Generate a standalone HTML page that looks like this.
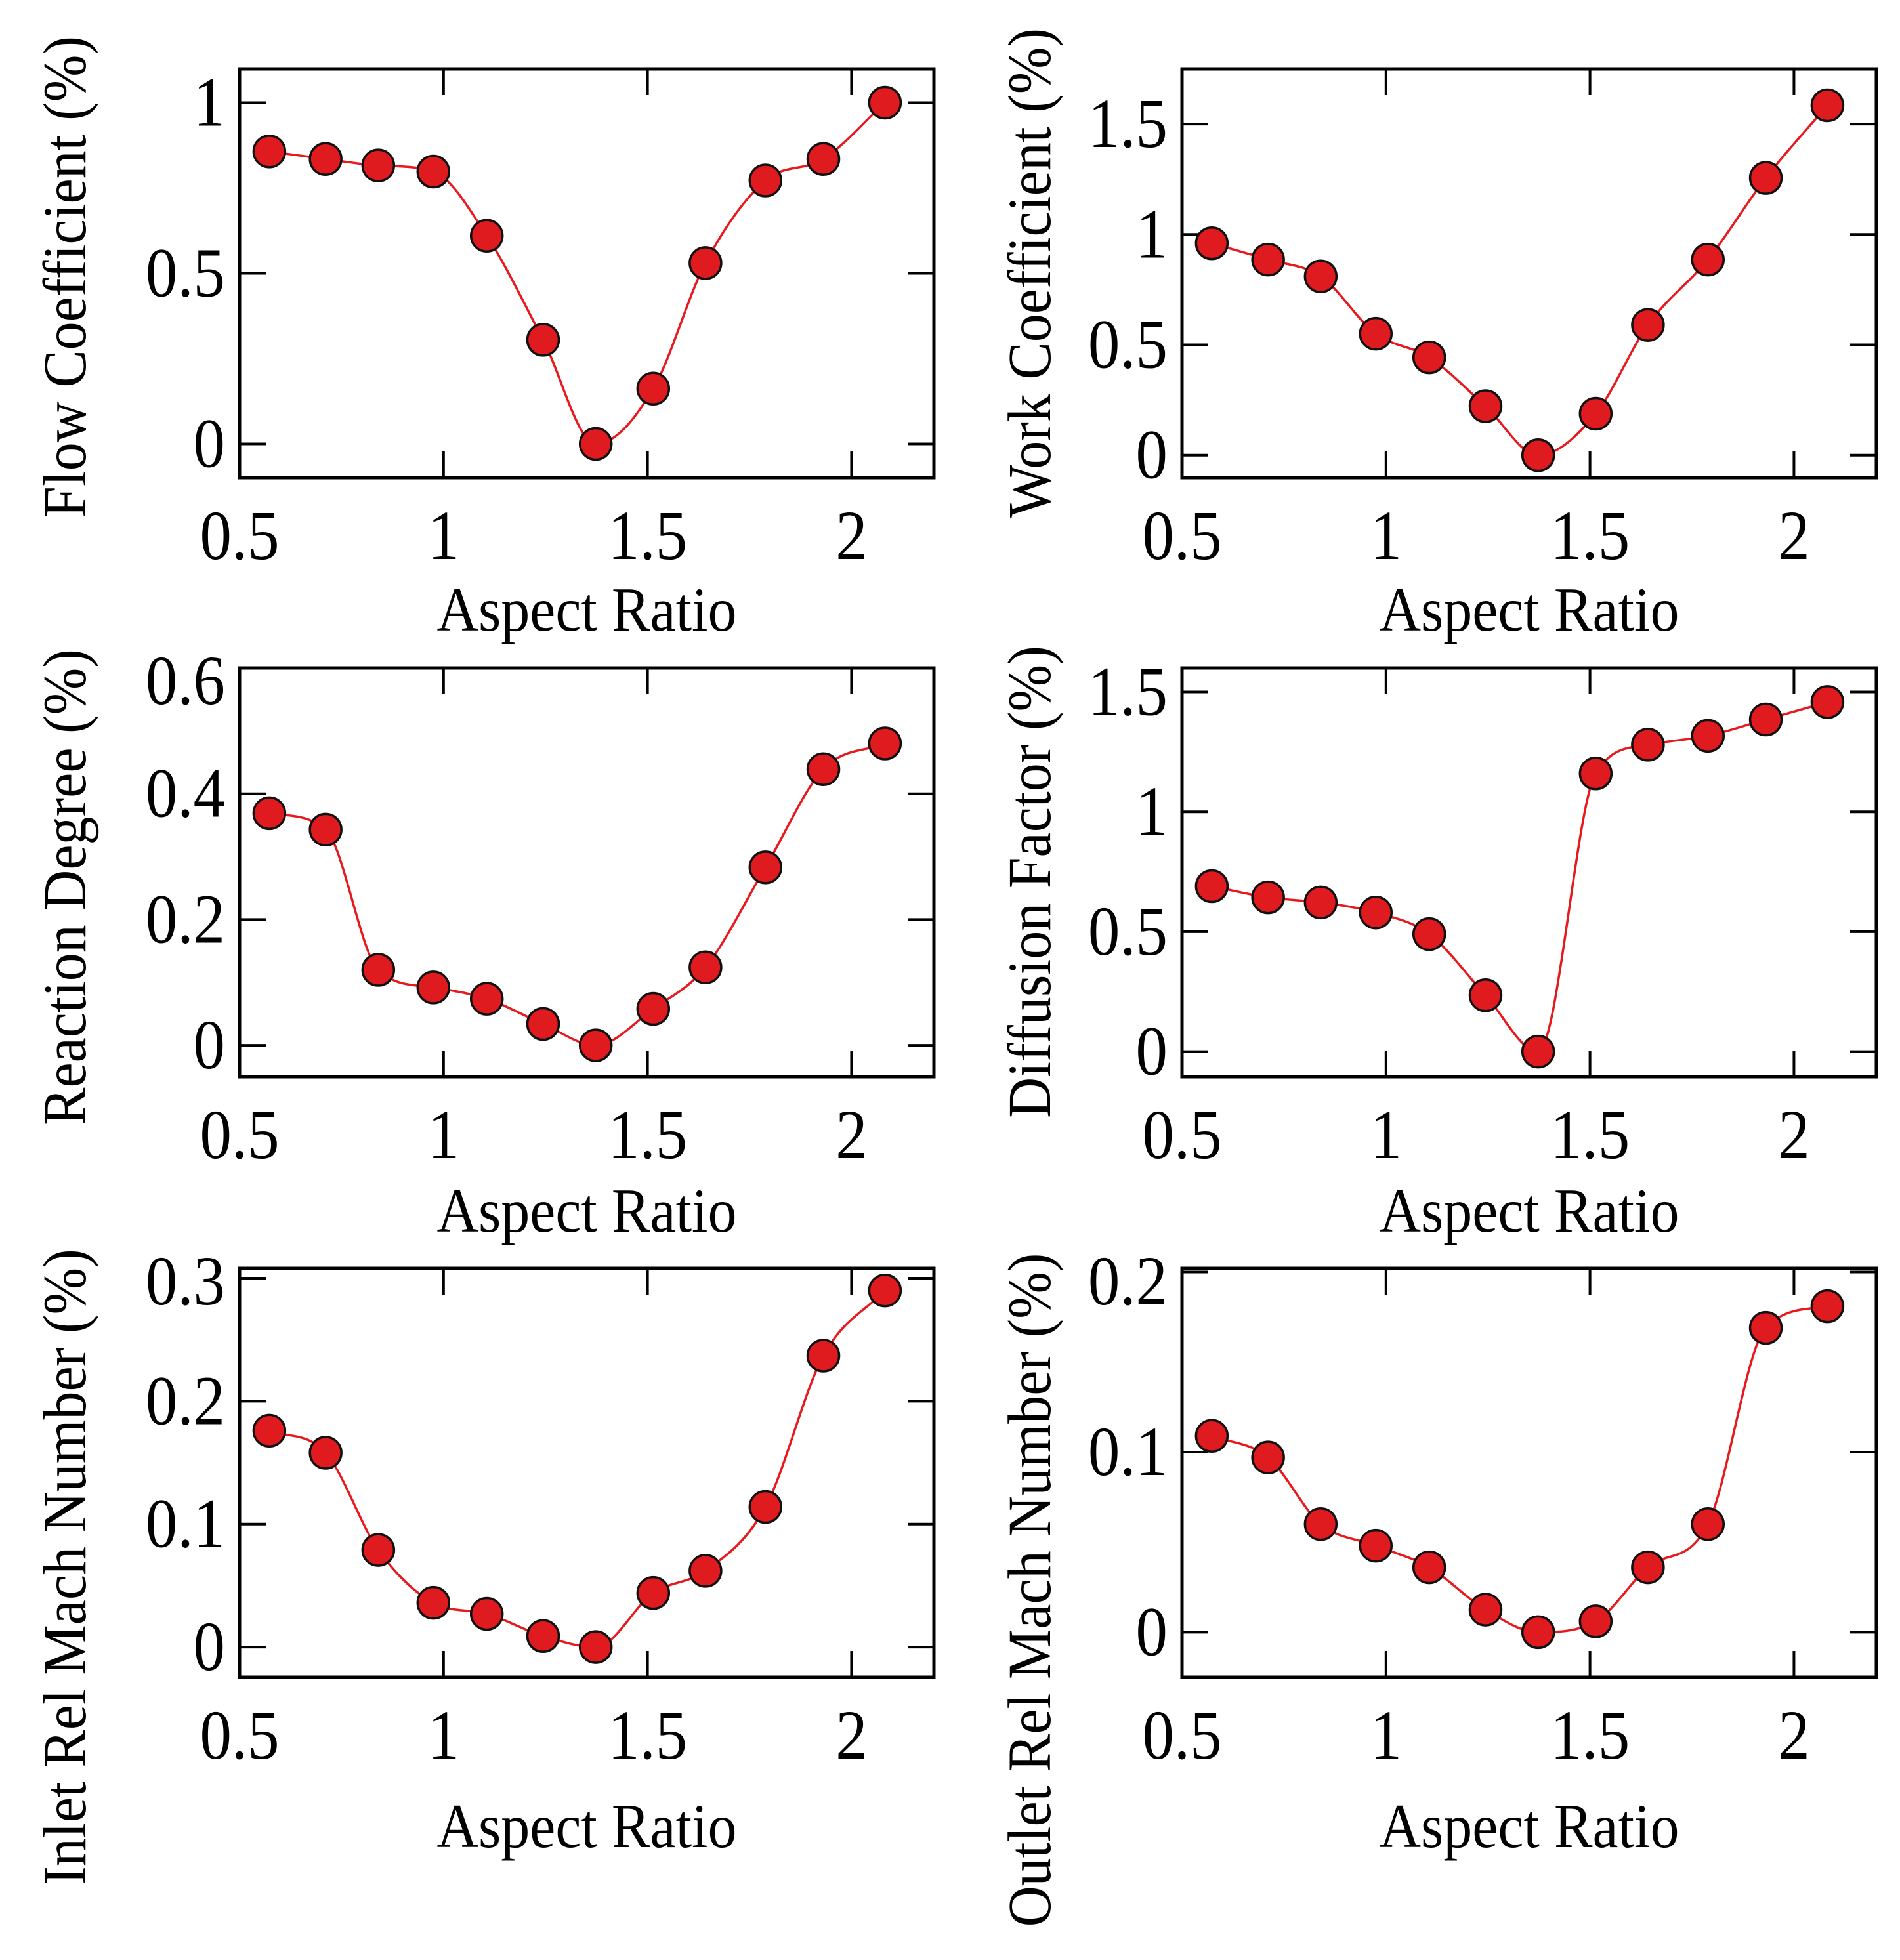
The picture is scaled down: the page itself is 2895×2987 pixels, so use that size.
<!DOCTYPE html>
<html><head><meta charset="utf-8"><style>
html,body{margin:0;padding:0;background:#fff}
svg{display:block}
text{font-family:"Liberation Serif",serif;fill:#000}
</style></head><body>
<svg id="fig" width="2895" height="2987" viewBox="0 0 2895 2987" xmlns="http://www.w3.org/2000/svg"></svg>
<script>
const aspectRatio = [0.573,0.711,0.840,0.975,1.106,1.244,1.373,1.514,1.642,1.789,1.931,2.082];
const xTicks = [0.5,1,1.5,2];
const xTickLabels = ["0.5","1","1.5","2"];

const flowCoef = [0.857,0.835,0.816,0.798,0.61,0.305,0,0.162,0.53,0.772,0.835,1.0];
const flowTicks = [0,0.5,1];
const flowTickLabels = ["0","0.5","1"];

const workCoef = [0.96,0.886,0.81,0.55,0.443,0.222,0,0.188,0.59,0.886,1.256,1.585];
const workTicks = [0,0.5,1,1.5];
const workTickLabels = ["0","0.5","1","1.5"];

const reactionDeg = [0.369,0.343,0.12,0.092,0.074,0.034,0,0.058,0.124,0.283,0.439,0.48];
const reactionTicks = [0,0.2,0.4,0.6];
const reactionTickLabels = ["0","0.2","0.4","0.6"];

const diffFactor = [0.69,0.643,0.622,0.58,0.49,0.235,0,1.16,1.28,1.317,1.385,1.458];
const diffTicks = [0,0.5,1,1.5];
const diffTickLabels = ["0","0.5","1","1.5"];

const inletMach = [0.176,0.158,0.079,0.036,0.027,0.009,0,0.044,0.062,0.114,0.237,0.29];
const inletTicks = [0,0.1,0.2,0.3];
const inletTickLabels = ["0","0.1","0.2","0.3"];

const outletMach = [0.109,0.097,0.06,0.048,0.036,0.0125,0,0.006,0.036,0.06,0.169,0.181];
const outletTicks = [0,0.1,0.2];
const outletTickLabels = ["0","0.1","0.2"];

const NS="http://www.w3.org/2000/svg";
const svg=document.getElementById('fig');
function mk(tag,attrs,parent){const e=document.createElementNS(NS,tag);for(const k in attrs)e.setAttribute(k,attrs[k]);(parent||svg).appendChild(e);return e;}

const panels=[
 {id:'flow',vals:flowCoef,ticks:flowTicks,labels:flowTickLabels,ymin:-0.099,ymax:1.099,title:'Flow Coefficient (%)',L:365,T:105,ty:422,xt:961},
 {id:'work',vals:workCoef,ticks:workTicks,labels:workTickLabels,ymin:-0.102,ymax:1.75,title:'Work Coefficient (%)',L:1801,T:105,ty:416,xt:961},
 {id:'reaction',vals:reactionDeg,ticks:reactionTicks,labels:reactionTickLabels,ymin:-0.05,ymax:0.6,title:'Reaction Degree (%)',L:365,T:1018,ty:1352,xt:1877},
 {id:'diffusion',vals:diffFactor,ticks:diffTicks,labels:diffTickLabels,ymin:-0.105,ymax:1.6,title:'Diffusion Factor (%)',L:1801,T:1018,ty:1344,xt:1877},
 {id:'inlet',vals:inletMach,ticks:inletTicks,labels:inletTickLabels,ymin:-0.0245,ymax:0.308,title:'Inlet Rel Mach Number (%)',L:365,T:1933,ty:2388,xt:2815},
 {id:'outlet',vals:outletMach,ticks:outletTicks,labels:outletTickLabels,ymin:-0.025,ymax:0.202,title:'Outlet Rel Mach Number (%)',L:1801,T:1933,ty:2423,xt:2815}
];
const W=1058,H=623,XMIN=0.5,XMAX=2.202,TL=40;

function monotonePath(px,py){
  const n=px.length,d=[],m=[];
  for(let i=0;i<n-1;i++)d.push((py[i+1]-py[i])/(px[i+1]-px[i]));
  m[0]=d[0];m[n-1]=d[n-2];
  for(let i=1;i<n-1;i++){m[i]=(d[i-1]*d[i]<=0)?0:(d[i-1]+d[i])/2;}
  for(let i=0;i<n-1;i++){if(d[i]===0){m[i]=0;m[i+1]=0;continue;}const a=m[i]/d[i],b=m[i+1]/d[i];const s=a*a+b*b;if(s>9){const t=3/Math.sqrt(s);m[i]=t*a*d[i];m[i+1]=t*b*d[i];}}
  let p='M'+px[0]+','+py[0];
  for(let i=0;i<n-1;i++){const h=(px[i+1]-px[i])/3;p+=' C'+(px[i]+h)+','+(py[i]+m[i]*h)+' '+(px[i+1]-h)+','+(py[i+1]-m[i+1]*h)+' '+px[i+1]+','+py[i+1];}
  return p;
}

panels.forEach(P=>{
  const g=mk('g',{});
  
  
  const sx=v=>P.L+(v-XMIN)/(XMAX-XMIN)*W;
  const sy=v=>P.T+H-(v-P.ymin)/(P.ymax-P.ymin)*H;
  const B=P.T+H,R=P.L+W;
  xTicks.forEach((t,i)=>{
    const x=sx(t);
    if(i>0){
      const a=mk('line',{x1:x,y1:B,x2:x,y2:B-TL,stroke:'#000','stroke-width':4},g);
      
      const b=mk('line',{x1:x,y1:P.T,x2:x,y2:P.T+TL,stroke:'#000','stroke-width':4},g);
      
    }
    const tl=mk('text',{x:0,y:0,'font-size':102,'text-anchor':'middle',transform:'translate('+x+','+(B+124)+') scale(0.95,1.05)'},g);
    tl.textContent=xTickLabels[i];
    
  });
  P.ticks.forEach((t,i)=>{
    const y=sy(t);
    const a=mk('line',{x1:P.L,y1:y,x2:P.L+TL,y2:y,stroke:'#000','stroke-width':4},g);
    
    const b=mk('line',{x1:R,y1:y,x2:R-TL,y2:y,stroke:'#000','stroke-width':4},g);
    
    const ly=Math.max(y,P.T+20);
    const tl=mk('text',{x:0,y:0,'font-size':102,'text-anchor':'end',transform:'translate('+(P.L-22)+','+(ly+35)+') scale(0.95,1.05)'},g);
    tl.textContent=P.labels[i];
    
  });
  const box=mk('rect',{x:P.L,y:P.T,width:W,height:H,fill:'none',stroke:'#000','stroke-width':5},g);
  
  const px=aspectRatio.map(sx),py=P.vals.map(sy);
  const line=mk('path',{d:monotonePath(px,py),fill:'none',stroke:'#e8191c','stroke-width':3.5},g);
  
  P.vals.forEach((v,i)=>{
    const c=mk('circle',{cx:sx(aspectRatio[i]),cy:sy(v),r:24,fill:'#e01b1f',stroke:'#111','stroke-width':3.5},g);
    
  });
  const xt=mk('text',{x:0,y:0,'font-size':88,'text-anchor':'middle',transform:'translate('+(P.L+W/2)+','+P.xt+') scale(1,1.08)'},g);
  xt.textContent='Aspect Ratio';
  
  const cx=P.L<1000?130:1600;
  const yt=mk('text',{x:0,y:0,'font-size':86,'text-anchor':'middle',transform:'translate('+cx+','+P.ty+') rotate(-90) scale(1,1.08)'},g);
  yt.textContent=P.title;
  
});
</script>
</body></html>
